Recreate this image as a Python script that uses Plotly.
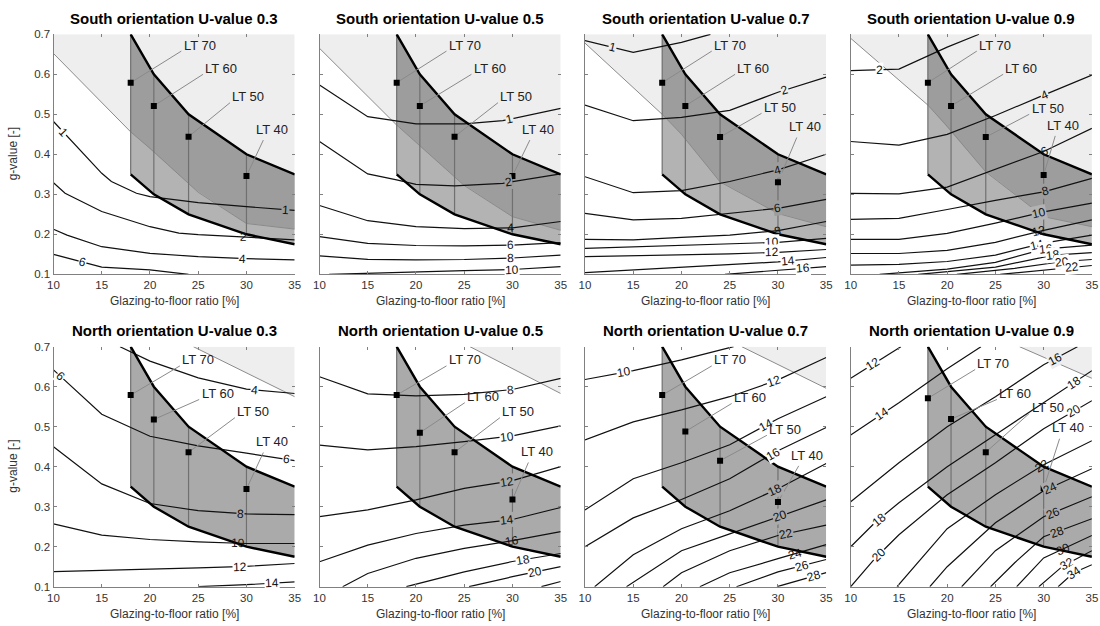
import numpy as np
import plotly.graph_objects as go

FONT = "Liberation Sans, Arial, sans-serif"
W, H = 1100, 626

# ---------------- shared data ----------------
X_TICKS = [10, 15, 20, 25, 30, 35]
Y_TICKS = [0.1, 0.2, 0.3, 0.4, 0.5, 0.6, 0.7]
Y_TICK_TEXT = ["0.1", "0.2", "0.3", "0.4", "0.5", "0.6", "0.7"]

LT_NAMES = ["LT 70", "LT 60", "LT 50", "LT 40"]
LT_GFR = [18, 20.4, 24, 30]                 # glazing-to-floor ratio of the LT points
BAND_X = [18, 20.4, 24, 30, 35]
BAND_UPPER = [0.7, 0.6, 0.5, 0.4, 0.35]
BAND_LOWER = [0.35, 0.3, 0.25, 0.2, 0.175]

# ---------------- South U 0.3 ----------------
S03_LIMIT_X = [10, 18, 20, 25, 30, 35]
S03_LIMIT_Y = [0.652, 0.456, 0.415, 0.305, 0.227, 0.213]
S03_LT_G = [0.579, 0.521, 0.444, 0.346]
S03_CONTOURS = {
    1: ([10, 15, 16, 18.6, 20, 25, 30, 35], [0.482, 0.3525, 0.332, 0.3025, 0.294, 0.279, 0.269, 0.26]),
    2: ([10, 11.2, 15, 20, 23, 25, 30, 35], [0.329, 0.3025, 0.257, 0.219, 0.203, 0.199, 0.193, 0.186]),
    4: ([10, 11.4, 15, 20, 25, 30, 35], [0.2125, 0.198, 0.169, 0.1525, 0.144, 0.139, 0.136]),
    6: ([10, 15, 20, 24], [0.15, 0.118, 0.111, 0.1]),
}
S03_CLABEL_X = {1: [11.0, 34.0], 2: [29.7], 4: [29.6], 6: [13.0]}
S03_LT_LABEL = [(25.15, 0.673), (27.4, 0.615), (30.2, 0.544), (32.6, 0.4625)]

# ---------------- South U 0.5 ----------------
S05_LIMIT_X = [10, 18, 20, 25, 30, 35]
S05_LIMIT_Y = [0.665, 0.473, 0.43, 0.322, 0.244, 0.21]
S05_LT_G = [0.579, 0.521, 0.444, 0.346]
S05_CONTOURS = {
    1: ([10, 15, 20, 25, 29, 35], [0.573, 0.494, 0.476, 0.476, 0.484, 0.515]),
    2: ([10, 15, 18, 20, 24, 29, 35], [0.432, 0.351, 0.336, 0.325, 0.321, 0.3275, 0.351]),
    4: ([10, 15, 20, 25, 30, 35], [0.272, 0.234, 0.219, 0.214, 0.216, 0.232]),
    6: ([10, 15, 20, 25, 30, 35], [0.194, 0.1775, 0.172, 0.171, 0.173, 0.179]),
    8: ([10, 15, 20, 25, 30, 35], [0.146, 0.1375, 0.136, 0.137, 0.1408, 0.148]),
    10: ([11, 15, 20, 25, 30, 35], [0.1, 0.103, 0.1065, 0.109, 0.112, 0.119]),
}
S05_CLABEL_X = {1: [29.7], 2: [29.6], 4: [29.8], 6: [29.8], 8: [29.8], 10: [29.9]}
S05_LT_LABEL = [(25.06, 0.673), (27.65, 0.615), (30.4, 0.544), (32.65, 0.4625)]

# ---------------- South U 0.7 ----------------
S07_LIMIT_X = [10, 18, 20, 24, 30, 35]
S07_LIMIT_Y = [0.678, 0.5, 0.45, 0.331, 0.252, 0.219]
S07_LT_G = [0.579, 0.521, 0.443, 0.33]
S07_CONTOURS = {
    1: ([10, 15, 20, 23], [0.684, 0.655, 0.68, 0.7]),
    2: ([10, 15, 20, 25, 30, 35], [0.523, 0.484, 0.4925, 0.51, 0.555, 0.593]),
    4: ([10, 15, 20, 25, 30, 35], [0.344, 0.304, 0.309, 0.332, 0.361, 0.4]),
    6: ([10, 15, 20, 25, 30, 35], [0.2525, 0.236, 0.24, 0.2525, 0.265, 0.2875]),
    8: ([10, 15, 20, 25, 30, 35], [0.1875, 0.186, 0.1925, 0.198, 0.209, 0.232]),
    10: ([10, 15, 20, 25, 30, 35], [0.165, 0.169, 0.173, 0.176, 0.18, 0.19]),
    12: ([10, 15, 20, 25, 30, 35], [0.144, 0.146, 0.149, 0.151, 0.155, 0.162]),
    14: ([10, 15, 22, 30, 35], [0.104, 0.111, 0.119, 0.131, 0.142]),
    16: ([24.5, 30, 35], [0.1, 0.11, 0.119]),
}
S07_CLABEL_X = {1: [12.8], 2: [30.7], 4: [30.0], 6: [30.0], 8: [30.0], 10: [29.4],
                12: [29.4], 14: [31.0], 16: [32.6]}
S07_LT_LABEL = [(25.04, 0.673), (27.46, 0.615), (30.2, 0.5175), (32.8, 0.469)]

# ---------------- South U 0.9 ----------------
S09_LIMIT_X = [10, 18, 20, 24, 30, 35]
S09_LIMIT_Y = [0.69, 0.523, 0.47, 0.356, 0.244, 0.219]
S09_LT_G = [0.579, 0.521, 0.443, 0.348]
S09_CONTOURS = {
    2: ([10, 15, 20, 23.3], [0.609, 0.613, 0.668, 0.7]),
    4: ([10, 15, 20, 25, 30, 35], [0.432, 0.423, 0.45, 0.497, 0.548, 0.598]),
    6: ([10, 15, 20, 25, 30, 35], [0.3025, 0.301, 0.318, 0.362, 0.407, 0.465]),
    8: ([10, 15, 20, 25, 30, 35], [0.2375, 0.24, 0.262, 0.285, 0.306, 0.34]),
    10: ([10, 15, 20, 25, 30, 35], [0.1875, 0.1875, 0.2025, 0.228, 0.256, 0.278]),
    12: ([10, 15, 20, 25, 30, 35], [0.152, 0.152, 0.16, 0.18, 0.21, 0.236]),
    14: ([10, 15, 20, 25, 30, 35], [0.123, 0.125, 0.132, 0.148, 0.178, 0.198]),
    16: ([13, 20, 25, 30, 35], [0.1, 0.113, 0.13, 0.163, 0.173]),
    18: ([17, 25, 31, 35], [0.1, 0.118, 0.148, 0.154]),
    20: ([21, 27, 32, 35], [0.1, 0.115, 0.132, 0.137]),
    22: ([25.5, 30, 33, 35], [0.1, 0.11, 0.118, 0.122]),
}
S09_CLABEL_X = {2: [13.0], 4: [30.1], 6: [30.1], 8: [30.2], 10: [29.5], 12: [29.5],
                14: [29.3], 16: [30.2], 18: [31.0], 20: [31.9], 22: [32.9]}
S09_LT_LABEL = [(24.97, 0.673), (27.7, 0.615), (30.4, 0.515), (32.05, 0.473)]

# ---------------- North U 0.3 ----------------
N03_LIMIT_X = [24.5, 35]
N03_LIMIT_Y = [0.7, 0.575]
N03_LT_G = [0.579, 0.518, 0.436, 0.344]
N03_CONTOURS = {
    4: ([16.9, 20, 25, 30, 35], [0.7, 0.664, 0.622, 0.594, 0.583]),
    6: ([10, 15, 20, 25, 30, 35], [0.642, 0.531, 0.476, 0.452, 0.434, 0.415]),
    8: ([10, 15, 20, 25, 30, 35], [0.45, 0.357, 0.308, 0.29, 0.282, 0.28]),
    10: ([10, 15, 20, 25, 30, 35], [0.257, 0.229, 0.218, 0.212, 0.208, 0.208]),
    12: ([10, 15, 20, 25, 30, 35], [0.1375, 0.14, 0.144, 0.147, 0.151, 0.158]),
    14: ([25, 30, 35], [0.1, 0.105, 0.112]),
}
N03_CLABEL_X = {4: [30.8], 6: [10.7, 34.1], 8: [29.4], 10: [29.1], 12: [29.3], 14: [32.6]}
N03_LT_LABEL = [(25.0, 0.667), (27.0, 0.583), (30.7, 0.5375), (32.6, 0.4625)]

# ---------------- North U 0.5 ----------------
N05_LIMIT_X = [25.6, 35]
N05_LIMIT_Y = [0.7, 0.583]
N05_LT_G = [0.579, 0.485, 0.436, 0.318]
N05_CONTOURS = {
    8: ([10, 15, 20, 25, 30, 35], [0.625, 0.582, 0.577, 0.581, 0.593, 0.621]),
    10: ([10, 15, 20, 25, 30, 35], [0.454, 0.442, 0.45, 0.4625, 0.477, 0.502]),
    12: ([10, 15, 20, 25, 30, 35], [0.275, 0.292, 0.317, 0.346, 0.365, 0.4]),
    14: ([10, 15, 20, 25, 30, 35], [0.1625, 0.204, 0.233, 0.254, 0.268, 0.298]),
    16: ([12.4, 15, 20, 25, 30, 35], [0.1, 0.133, 0.171, 0.196, 0.215, 0.2375]),
    18: ([19, 25, 30, 35], [0.1, 0.137, 0.163, 0.183]),
    20: ([25.5, 30, 35], [0.1, 0.125, 0.15]),
    22: ([33, 35], [0.1, 0.113]),
}
N05_CLABEL_X = {8: [29.8], 10: [29.4], 12: [29.4], 14: [29.4], 16: [29.9], 18: [31.1], 20: [32.3]}
N05_LT_LABEL = [(25.06, 0.667), (26.96, 0.575), (30.6, 0.5375), (32.5, 0.4375)]

# ---------------- North U 0.7 ----------------
N07_LIMIT_X = [26.25, 35]
N07_LIMIT_Y = [0.7, 0.596]
N07_LT_G = [0.579, 0.488, 0.415, 0.312]
N07_CONTOURS = {
    10: ([10, 15, 20, 25.4], [0.618, 0.64, 0.667, 0.7]),
    12: ([10, 15, 20, 25, 30, 35], [0.467, 0.512, 0.542, 0.575, 0.617, 0.673]),
    14: ([10, 15, 20, 25, 30, 35], [0.292, 0.37, 0.41, 0.455, 0.52, 0.575]),
    16: ([10, 15, 20, 25, 30, 35], [0.2, 0.272, 0.318, 0.37, 0.44, 0.498]),
    18: ([11, 15, 20, 25, 30, 35], [0.1, 0.18, 0.245, 0.29, 0.345, 0.408]),
    20: ([14.3, 20, 25, 30, 35], [0.1, 0.19, 0.232, 0.275, 0.317]),
    22: ([18.1, 20, 25, 30, 35], [0.1, 0.135, 0.19, 0.228, 0.254]),
    24: ([21.9, 25, 30, 35], [0.1, 0.135, 0.17, 0.205]),
    26: ([25.7, 30, 35], [0.1, 0.137, 0.168]),
    28: ([29.9, 35], [0.1, 0.135]),
}
N07_CLABEL_X = {10: [14.0], 12: [29.6], 14: [28.8], 16: [29.5], 18: [29.7], 20: [30.2],
                22: [30.8], 24: [31.8], 26: [32.5], 28: [33.7]}
N07_LT_LABEL = [(25.04, 0.667), (27.1, 0.573), (30.75, 0.4935), (33.0, 0.429)]

# ---------------- North U 0.9 ----------------
N09_LIMIT_X = [27.5, 35]
N09_LIMIT_Y = [0.7, 0.621]
N09_LT_G = [0.571, 0.519, 0.436, 0.346]
N09_CONTOURS = {
    12: ([10, 15.2], [0.621, 0.7]),
    14: ([10, 15, 20, 23.5], [0.479, 0.56, 0.645, 0.7]),
    16: ([10, 15, 20, 25, 30, 33.5], [0.3125, 0.41, 0.5, 0.575, 0.655, 0.7]),
    18: ([10, 12.5, 15, 20, 25, 30, 35], [0.2, 0.26, 0.31, 0.4, 0.48, 0.56, 0.64]),
    20: ([10, 12.5, 15, 20, 25, 30, 35], [0.1, 0.17, 0.23, 0.33, 0.41, 0.495, 0.565]),
    22: ([14.8, 20, 25, 30, 35], [0.1, 0.245, 0.33, 0.405, 0.465]),
    24: ([18.2, 20, 25, 30, 35], [0.1, 0.15, 0.26, 0.34, 0.395]),
    26: ([21.5, 25, 30, 35], [0.1, 0.19, 0.275, 0.325]),
    28: ([24.5, 27, 30, 35], [0.1, 0.16, 0.225, 0.27]),
    30: ([27.2, 30, 35], [0.1, 0.172, 0.228]),
    32: ([29.5, 32, 35], [0.1, 0.152, 0.19]),
    34: ([31.5, 33.1, 35], [0.1, 0.135, 0.155]),
}
N09_CLABEL_X = {12: [12.3], 14: [13.2], 16: [31.2], 18: [12.9, 33.1], 20: [12.9, 33.1],
                22: [29.8], 24: [30.7], 26: [31.0], 28: [31.4], 30: [32.05], 32: [32.4], 34: [33.1]}
N09_LT_LABEL = [(24.8, 0.658), (27.05, 0.583), (30.4, 0.548), (32.5, 0.497)]

PANELS = [
    ("South orientation U-value 0.3", S03_LIMIT_X, S03_LIMIT_Y, S03_LT_G, S03_CONTOURS, S03_CLABEL_X, S03_LT_LABEL),
    ("South orientation U-value 0.5", S05_LIMIT_X, S05_LIMIT_Y, S05_LT_G, S05_CONTOURS, S05_CLABEL_X, S05_LT_LABEL),
    ("South orientation U-value 0.7", S07_LIMIT_X, S07_LIMIT_Y, S07_LT_G, S07_CONTOURS, S07_CLABEL_X, S07_LT_LABEL),
    ("South orientation U-value 0.9", S09_LIMIT_X, S09_LIMIT_Y, S09_LT_G, S09_CONTOURS, S09_CLABEL_X, S09_LT_LABEL),
    ("North orientation U-value 0.3", N03_LIMIT_X, N03_LIMIT_Y, N03_LT_G, N03_CONTOURS, N03_CLABEL_X, N03_LT_LABEL),
    ("North orientation U-value 0.5", N05_LIMIT_X, N05_LIMIT_Y, N05_LT_G, N05_CONTOURS, N05_CLABEL_X, N05_LT_LABEL),
    ("North orientation U-value 0.7", N07_LIMIT_X, N07_LIMIT_Y, N07_LT_G, N07_CONTOURS, N07_CLABEL_X, N07_LT_LABEL),
    ("North orientation U-value 0.9", N09_LIMIT_X, N09_LIMIT_Y, N09_LT_G, N09_CONTOURS, N09_CLABEL_X, N09_LT_LABEL),
]

# ---------------- layout geometry (pixels, page coordinates) ----------------
PANEL_LEFT = [53.5, 319.5, 585.0, 850.7]
PANEL_W = 241.2
ROW_TOP = [34.3, 346.7]
PANEL_H = 240.0
PX_PER_X = PANEL_W / 25.0
PX_PER_Y = PANEL_H / 0.6

C_LIGHT = "#eeeeee"
C_BAND_OVER = "#9d9d9d"
LT_LEADER_OFF = [(-1.9, -0.015), (-1.9, -0.015), (-1.9, -0.015), (-0.85, -0.027)]

fig = go.Figure()
layout = dict(width=W, height=H, margin=dict(l=0, r=0, t=0, b=0, autoexpand=False),
              paper_bgcolor="white", plot_bgcolor="white", showlegend=False)
label_annots = []
text_annots = []


def px2paper_x(px):
    return px / W


def px2paper_y(py):
    return 1 - py / H


def limit_at(lx, ly, x):
    return np.interp(x, lx, ly, left=10.0, right=ly[-1])


n_panels = len(PANELS)
for i, (title, lim_x, lim_y, lt_g, contours, clabels, lt_lab) in enumerate(PANELS):
    row, col = divmod(i, 4)
    k = i + 1
    xa = "x" if k == 1 else f"x{k}"
    ya = "y" if k == 1 else f"y{k}"
    xkey = "xaxis" if k == 1 else f"xaxis{k}"
    ykey = "yaxis" if k == 1 else f"yaxis{k}"
    left = PANEL_LEFT[col]
    top = ROW_TOP[row]
    bottom = top + PANEL_H
    band_c = "#b3b3b3" if row == 0 else "#aaaaaa"

    axis_common = dict(showgrid=False, zeroline=False, showline=True, linecolor="#808080",
                       linewidth=1, ticks="inside", ticklen=3, tickcolor="#808080",
                       automargin=False,
                       tickfont=dict(family=FONT, size=11.5, color="#333333"))
    layout[xkey] = dict(axis_common, domain=[px2paper_x(left), px2paper_x(left + PANEL_W)],
                        range=[10, 35], tickvals=X_TICKS, ticktext=[str(v) for v in X_TICKS], anchor=ya)
    layout[ykey] = dict(axis_common, domain=[px2paper_y(bottom), px2paper_y(top)], range=[0.1, 0.7],
                        tickvals=Y_TICKS, ticktext=Y_TICK_TEXT, anchor=xa,
                        showticklabels=(col == 0))
    # mirrored tick marks on top / right (no box line)
    mk = k + n_panels
    layout[f"xaxis{mk}"] = dict(overlaying=xa, side="top", anchor=ya, range=[10, 35],
                                tickvals=X_TICKS, ticks="inside", ticklen=3, tickcolor="#808080",
                                showticklabels=False, showline=False, showgrid=False,
                                zeroline=False, automargin=False)
    layout[f"yaxis{mk}"] = dict(overlaying=ya, side="right", anchor=xa, range=[0.1, 0.7],
                                tickvals=Y_TICKS, ticks="inside", ticklen=3, tickcolor="#808080",
                                showticklabels=False, showline=False, showgrid=False,
                                zeroline=False, automargin=False)

    def add(tr, xr=xa, yr=ya):
        tr.update(xaxis=xr, yaxis=yr, hoverinfo="skip", showlegend=False)
        fig.add_trace(tr)

    # light-grey region above the limit line
    add(go.Scatter(x=list(lim_x) + [35, lim_x[0]], y=list(lim_y) + [0.7, 0.7], mode="lines",
                   fill="toself", fillcolor=C_LIGHT, line=dict(width=0)))
    # LT band
    add(go.Scatter(x=BAND_X + BAND_X[::-1], y=BAND_LOWER + BAND_UPPER[::-1], mode="lines",
                   fill="toself", fillcolor=band_c, line=dict(width=0)))
    # overlap of band and light region
    xs = np.linspace(BAND_X[0], BAND_X[-1], 300)
    hi = np.interp(xs, BAND_X, BAND_UPPER)
    lo = np.maximum(np.interp(xs, BAND_X, BAND_LOWER), limit_at(lim_x, lim_y, xs))
    m = lo < hi
    if m.any():
        xx = xs[m]
        add(go.Scatter(x=np.concatenate([xx, xx[::-1]]), y=np.concatenate([hi[m], lo[m][::-1]]),
                       mode="lines", fill="toself", fillcolor=C_BAND_OVER, line=dict(width=0)))
    # limit line
    add(go.Scatter(x=lim_x, y=lim_y, mode="lines", line=dict(color="#8a8a8a", width=1)))
    # verticals in band
    vx, vy = [], []
    for gx, gl, gu in zip(BAND_X[:-1], BAND_LOWER[:-1], BAND_UPPER[:-1]):
        vx += [gx, gx, None]
        vy += [gl, gu, None]
    add(go.Scatter(x=vx, y=vy, mode="lines", line=dict(color="#707070", width=1.2)))
    # contour lines
    for lev, (cx, cy) in contours.items():
        add(go.Scatter(x=cx, y=cy, mode="lines", line=dict(color="#111111", width=1.2)))
    # bold band edges
    add(go.Scatter(x=BAND_X, y=BAND_UPPER, mode="lines", line=dict(color="black", width=2.4)))
    add(go.Scatter(x=BAND_X, y=BAND_LOWER, mode="lines", line=dict(color="black", width=2.4)))
    # leaders
    lx, ly = [], []
    for j in range(4):
        cxl, cyl = lt_lab[j]
        dx, dy = LT_LEADER_OFF[j]
        lx += [LT_GFR[j], cxl + dx, None]
        ly += [lt_g[j], cyl + dy, None]
    add(go.Scatter(x=lx, y=ly, mode="lines", line=dict(color="#8a8a8a", width=1)))
    # markers
    add(go.Scatter(x=LT_GFR, y=lt_g, mode="markers",
                   marker=dict(symbol="square", size=6, color="black")))
    # invisible traces so the mirrored tick axes are drawn
    add(go.Scatter(x=[10], y=[0.1], mode="markers", marker=dict(size=1, opacity=0)),
        xr=f"x{mk}", yr=ya)
    add(go.Scatter(x=[10], y=[0.1], mode="markers", marker=dict(size=1, opacity=0)),
        xr=xa, yr=f"y{mk}")
    # contour labels
    for lev, xs_lab in clabels.items():
        cx, cy = contours[lev]
        for xl in xs_lab:
            yl = float(np.interp(xl, cx, cy))
            y1 = np.interp(xl - 0.3, cx, cy)
            y2 = np.interp(xl + 0.3, cx, cy)
            ang = -np.degrees(np.arctan2((y2 - y1) * PX_PER_Y, 0.6 * PX_PER_X))
            u_here = np.interp(xl, BAND_X, BAND_UPPER)
            l_here = np.interp(xl, BAND_X, BAND_LOWER)
            in_band = (xl >= BAND_X[0]) and (l_here <= yl <= u_here)
            above = yl >= limit_at(lim_x, lim_y, xl)
            near_edge = xl >= BAND_X[0] and (abs(yl - u_here) < 0.016 or abs(yl - l_here) < 0.016)
            if near_edge:
                bg = "rgba(0,0,0,0)"
            elif in_band:
                bg = C_BAND_OVER if above else band_c
            else:
                bg = C_LIGHT if above else "white"
            label_annots.append(dict(x=xl, y=yl, xref=xa, yref=ya, text=str(lev), showarrow=False,
                                     xanchor="center", yanchor="middle",
                                     textangle=float(ang), bgcolor=bg, borderpad=0,
                                     font=dict(family=FONT, size=12, color="#111111")))
    # LT labels
    for j in range(4):
        text_annots.append(dict(x=lt_lab[j][0], y=lt_lab[j][1], xref=xa, yref=ya, text=LT_NAMES[j],
                                showarrow=False, xanchor="center", yanchor="middle",
                                font=dict(family=FONT, size=13, color="#222222")))
    # title and axis titles
    cxp = px2paper_x(left + PANEL_W / 2)
    text_annots.append(dict(x=cxp, y=px2paper_y(top - 16), xref="paper", yref="paper",
                            text=f"<b>{title}</b>", showarrow=False, xanchor="center", yanchor="middle",
                            font=dict(family=FONT, size=15, color="black")))
    text_annots.append(dict(x=cxp, y=px2paper_y(bottom + 27), xref="paper", yref="paper",
                            text="Glazing-to-floor ratio [%]", showarrow=False,
                            xanchor="center", yanchor="middle",
                            font=dict(family=FONT, size=12, color="#333333")))
    if col == 0:
        text_annots.append(dict(x=px2paper_x(13), y=px2paper_y(top + PANEL_H / 2), xref="paper",
                                yref="paper", text="g-value [-]", showarrow=False, textangle=-90,
                                xanchor="center", yanchor="middle",
                                font=dict(family=FONT, size=12, color="#333333")))

layout["annotations"] = label_annots + text_annots
fig.update_layout(**layout)
fig.write_html("out.html", config={"displayModeBar": False},
               post_script="document.body.style.margin='0';document.body.style.overflow='hidden';")
